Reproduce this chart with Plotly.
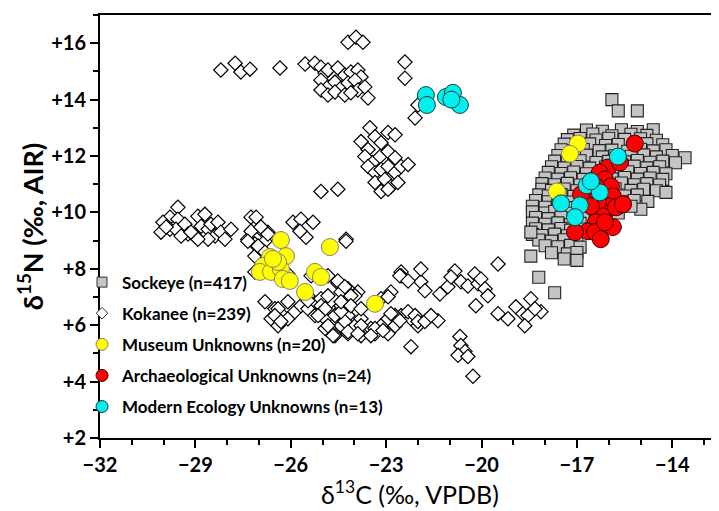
import plotly.graph_objects as go

# ---------------- data (δ13C, δ15N) ----------------
kokanee_pts = [
    (-28.20,15.05),(-27.75,15.29),(-27.57,14.98),(-27.28,15.08),(-26.34,15.12),
    (-25.55,15.26),(-25.24,15.29),(-25.05,15.15),(-24.92,14.94),(-24.83,15.05),(-24.52,15.12),
    (-24.30,14.87),(-24.11,14.98),(-23.89,15.05),(-23.79,14.80),
    (-25.05,14.69),(-24.83,14.45),(-24.61,14.62),(-24.42,14.41),(-24.20,14.59),(-23.98,14.69),
    (-23.89,14.34),(-23.67,14.45),(-25.05,14.34),(-24.83,14.16),(-24.61,14.27),(-24.30,14.16),
    (-24.11,14.24),(-23.57,14.06),
    (-24.20,16.03),(-23.95,16.21),(-23.73,16.03),
    (-22.41,15.33),(-22.41,14.76),(-22.09,13.35),(-22.00,13.81),
    (-23.51,13.00),(-23.79,12.51),(-23.57,12.23),(-23.35,12.68),(-23.16,12.47),(-22.94,12.83),
    (-22.72,12.75),(-23.67,11.98),(-23.42,11.77),(-23.19,11.98),(-22.94,12.16),(-22.72,11.94),
    (-23.57,11.63),(-23.35,11.41),(-23.16,11.52),(-22.94,11.63),(-22.72,11.41),(-22.53,11.63),
    (-22.31,11.70),(-23.35,11.06),(-23.04,11.17),(-22.85,10.92),(-22.63,11.06),(-23.16,10.74),
    (-22.94,10.82),(-25.05,10.74),(-24.52,10.82),
    (-29.55,10.18),(-29.80,9.83),(-30.02,9.65),(-29.55,9.76),(-29.80,9.40),(-30.08,9.30),
    (-29.61,9.40),(-29.33,9.58),(-29.23,9.23),(-29.45,9.16),(-29.01,9.16),(-28.92,9.86),
    (-28.70,9.93),(-28.82,9.51),(-28.60,9.40),(-28.51,9.58),(-28.29,9.65),(-28.38,9.16),
    (-28.20,9.30),(-28.07,9.05),(-27.88,9.40),(-28.60,9.05),(-28.92,9.05),(-29.14,9.30),
    (-29.92,9.48),
    (-27.25,9.83),(-27.03,9.58),(-26.94,9.40),(-27.35,9.05),(-27.13,8.88),(-26.81,8.98),
    (-27.13,8.45),(-26.94,8.70),(-26.72,9.30),(-25.93,9.65),(-25.68,9.76),(-25.52,9.12),
    (-25.71,9.33),(-24.26,9.05),(-27.09,9.83),(-27.25,9.33),(-26.94,9.48),(-26.72,9.23),
    (-27.35,8.98),(-27.03,8.81),(-26.81,8.59),(-25.30,9.65),(-24.26,8.98),
    (-27.13,7.89),(-26.81,6.83),(-26.50,6.58),(-26.31,6.41),(-26.62,6.23),(-26.40,5.98),
    (-26.09,6.23),(-25.87,6.48),(-25.68,6.69),(-25.46,6.58),(-25.24,6.34),(-24.92,6.23),
    (-24.61,6.48),(-24.42,6.69),(-24.20,6.34),(-24.42,5.98),(-23.98,5.98),(-23.79,6.23),
    (-23.48,5.88),(-23.16,5.98),(-22.94,6.23),(-22.72,5.98),(-22.53,6.34),(-22.22,6.23),
    (-22.00,5.98),(-22.22,5.24),(-24.92,5.88),(-24.61,5.63),(-24.20,5.70),(-23.79,5.63),
    (-23.35,5.70),(-22.94,5.70),
    (-25.36,7.75),(-24.83,7.75),(-24.52,7.50),(-24.20,7.29),(-23.89,7.18),(-22.85,7.18),
    (-22.53,7.89),(-21.91,7.54),(-26.09,7.82),(-25.46,7.04),(-25.05,6.94),
    (-24.42,7.18),(-23.98,7.04),(-24.83,7.04),(-26.40,6.58),(-26.09,6.83),(-26.50,6.34),
    (-26.31,6.13),(-25.46,6.87),(-25.05,6.69),(-24.61,6.34),(-24.30,6.13),(-23.79,5.98),
    (-23.35,5.88),(-22.72,6.34),(-22.53,7.75),(-23.16,6.94),
    (-22.57,7.75),(-22.31,7.57),(-21.91,7.99),(-21.78,7.22),(-21.31,7.11),(-21.06,7.36),
    (-20.84,7.92),(-20.96,7.71),(-20.65,7.54),(-20.43,7.39),(-20.21,7.82),(-20.11,7.47),
    (-20.02,7.64),(-19.89,7.29),(-20.18,6.69),(-19.80,7.04),(-19.48,8.17),(-22.94,7.01),
    (-22.85,6.41),(-22.57,6.16),(-22.31,6.48),(-22.09,6.34),(-22.00,6.13),(-21.78,6.13),
    (-21.37,6.16),(-21.59,6.34),(-19.48,6.41),(-19.17,6.23),(-18.92,6.65),(-18.70,6.41),
    (-18.45,6.94),(-18.54,6.34),(-18.13,6.48),(-18.32,6.58),(-18.64,5.98),
    (-20.68,5.60),(-20.65,5.28),(-20.52,5.07),(-20.74,4.93),(-20.43,4.89),(-20.27,4.19),
    (-24.20,5.77),(-23.89,5.70),(-23.48,5.63),(-23.10,5.81),(-24.83,5.98),(-24.42,6.48),
    (-24.11,7.04),(-24.52,7.57),(-24.30,7.36),(-24.42,6.83),(-24.11,6.69),(-24.92,6.58),
    (-25.14,6.34),(-23.79,6.58),(-24.67,5.63),
]

sockeye_pts = [
    (-16.7,12.92),(-16.2,12.88),(-15.6,12.93),(-15.1,12.87),(-14.6,12.93),
    (-17.1,12.74),(-16.5,12.78),(-15.9,12.72),(-15.3,12.77),(-14.8,12.73),
    (-17.3,12.58),(-16.9,12.62),(-16.4,12.57),(-16.0,12.63),(-15.5,12.59),(-15.0,12.61),(-14.5,12.56),
    (-17.4,12.42),(-17.0,12.38),(-16.6,12.43),(-16.1,12.37),(-15.7,12.41),(-15.2,12.39),(-14.8,12.44),(-14.3,12.40),
    (-17.5,12.22),(-17.1,12.18),(-16.8,12.23),(-16.3,12.19),(-15.9,12.21),(-15.4,12.17),(-15.0,12.24),(-14.6,12.18),(-14.2,12.22),
    (-17.6,12.02),(-17.2,11.98),(-16.7,12.03),(-16.2,11.97),(-15.8,12.01),(-15.3,11.99),(-14.9,12.04),(-14.5,11.97),(-14.0,12.02),(-13.6,11.94),
    (-17.7,11.82),(-17.3,11.78),(-16.9,11.83),(-16.4,11.77),(-16.0,11.81),(-15.5,11.79),(-15.1,11.84),(-14.7,11.78),(-14.3,11.82),(-13.9,11.76),
    (-17.8,11.62),(-17.4,11.58),(-17.0,11.63),(-16.6,11.57),(-16.1,11.61),(-15.7,11.59),(-15.2,11.64),(-14.8,11.58),(-14.4,11.62),
    (-17.9,11.42),(-17.5,11.38),(-17.1,11.43),(-16.7,11.37),(-16.2,11.41),(-15.8,11.39),(-15.4,11.44),(-15.0,11.38),(-14.6,11.42),(-14.2,11.37),
    (-18.0,11.22),(-17.6,11.18),(-17.2,11.23),(-16.8,11.17),(-16.4,11.21),(-15.9,11.19),(-15.5,11.24),(-15.1,11.18),(-14.7,11.22),(-14.3,11.17),
    (-18.1,11.02),(-17.7,10.98),(-17.3,11.03),(-16.9,10.97),(-16.5,11.01),(-16.0,10.99),(-15.6,11.04),(-15.2,10.98),(-14.8,11.02),(-14.4,10.97),
    (-18.1,10.82),(-17.8,10.78),(-17.4,10.83),(-17.0,10.77),(-16.6,10.81),(-16.2,10.79),(-15.8,10.84),(-15.3,10.78),(-14.9,10.82),(-14.5,10.77),(-14.2,10.71),
    (-18.2,10.62),(-17.9,10.58),(-17.5,10.63),(-17.1,10.57),(-16.7,10.61),(-16.3,10.59),(-15.9,10.64),(-15.5,10.58),(-15.1,10.62),(-14.77,10.39),
    (-18.3,10.42),(-17.9,10.38),(-17.6,10.43),(-17.2,10.37),(-16.8,10.41),(-16.4,10.39),(-16.0,10.44),(-15.6,10.38),(-15.2,10.42),(-14.99,10.11),
    (-18.4,10.22),(-18.0,10.18),(-17.6,10.23),(-17.3,10.17),(-16.9,10.21),(-16.5,10.19),(-16.1,10.24),(-15.7,10.18),(-15.3,10.22),
    (-18.4,10.02),(-18.0,9.98),(-17.7,10.03),(-17.3,9.97),(-16.9,10.01),(-16.5,9.99),(-16.1,10.04),(-15.7,9.98),
    (-18.3,9.82),(-17.9,9.78),(-17.5,9.83),(-17.1,9.77),(-16.8,9.81),(-16.4,9.79),
    (-18.4,9.62),(-18.0,9.58),(-17.6,9.63),(-17.2,9.57),(-16.9,9.61),
    (-18.3,9.42),(-17.9,9.38),(-17.5,9.43),(-17.2,9.37),(-16.8,9.41),
    (-18.4,9.22),(-18.1,9.18),(-17.7,9.23),(-17.3,9.17),
    (-18.2,9.02),(-17.8,8.98),(-17.4,9.03),(-17.0,8.97),
    (-18.0,8.82),(-17.6,8.78),(-17.2,8.83),(-16.9,8.77),
    (-17.8,8.57),(-17.3,8.53),(-17.0,8.58),
    (-17.4,8.35),(-17.0,8.30),
    (-15.9,14.0),(-15.7,13.6),(-15.1,13.6),(-18.45,8.45),(-18.2,7.7),(-17.7,7.15),(-18.45,9.3),
]

museum_pts = [
    (-26.31,9.02),(-24.77,8.77),(-26.65,8.42),(-26.15,8.45),(-26.87,8.10),(-26.47,8.17),
    (-26.97,7.89),(-26.62,7.89),(-26.31,7.99),(-26.25,7.64),(-26.03,7.57),(-25.24,7.89),
    (-25.05,7.71),(-25.55,7.18),(-23.35,6.76),(-26.40,8.24),(-26.56,8.35),
    (-16.97,12.44),(-17.22,12.08),(-17.63,10.74),
]

archaeo_pts = [
    (-15.18,12.44),(-16.03,11.59),(-16.28,11.41),(-16.12,11.17),(-15.93,10.92),(-16.40,10.92),
    (-16.65,10.71),(-16.87,10.64),(-15.87,10.57),(-15.71,10.22),(-16.03,10.22),(-16.34,10.36),
    (-16.18,9.86),(-15.77,10.18),(-15.55,10.29),(-16.40,9.65),(-16.65,9.33),(-17.06,9.30),
    (-16.43,9.30),(-16.25,9.05),(-15.87,9.48),(-16.12,9.65),(-15.65,11.77),(-16.56,10.22),
]

modern_pts = [
    (-15.71,11.98),(-16.69,10.96),(-16.28,10.71),(-17.50,10.32),(-16.91,10.25),(-17.06,9.83),
    (-16.56,11.10),(-21.75,14.16),(-21.72,13.81),(-21.12,14.09),(-20.90,14.24),(-20.68,13.81),
    (-20.95,14.00),
]

legend_names = ["Sockeye (n=417)", "Kokanee (n=239)", "Museum Unknowns (n=20)",
                "Archaeological Unknowns (n=24)", "Modern Ecology Unknowns (n=13)"]

x_tickvals = [-32, -29, -26, -23, -20, -17, -14]
x_ticktext = ["\u221232", "\u221229", "\u221226", "\u221223", "\u221220", "\u221217", "\u221214"]
y_tickvals = [2, 4, 6, 8, 10, 12, 14, 16]
y_ticktext = ["+2", "+4", "+6", "+8", "+10", "+12", "+14", "+16"]

# ---------------- figure ----------------
FONT = "Lato"

def xs(p):
    return [a for a, b in p]

def ys(p):
    return [b for a, b in p]

fig = go.Figure()

fig.add_trace(go.Scatter(x=xs(kokanee_pts), y=ys(kokanee_pts), mode="markers", showlegend=False,
    marker=dict(symbol="diamond", size=11, color="white", line=dict(color="black", width=1.2))))
fig.add_trace(go.Scatter(x=xs(sockeye_pts), y=ys(sockeye_pts), mode="markers", showlegend=False,
    marker=dict(symbol="square", size=12, color="#c4c4c4", line=dict(color="#222222", width=1.1))))
fig.add_trace(go.Scatter(x=xs(museum_pts), y=ys(museum_pts), mode="markers", showlegend=False,
    marker=dict(symbol="circle", size=17, color="#ffff00", line=dict(color="#8c7f6a", width=1))))
fig.add_trace(go.Scatter(x=xs(archaeo_pts), y=ys(archaeo_pts), mode="markers", showlegend=False,
    marker=dict(symbol="circle", size=17, color="#ff0000", line=dict(color="#3a0000", width=1))))
fig.add_trace(go.Scatter(x=xs(modern_pts), y=ys(modern_pts), mode="markers", showlegend=False,
    marker=dict(symbol="circle", size=17, color="#00f0f0", line=dict(color="#1a3a3a", width=1))))

legend_markers = [
    dict(symbol="square", size=10, color="#c4c4c4", line=dict(color="#333333", width=1)),
    dict(symbol="diamond", size=9, color="white", line=dict(color="#333333", width=1)),
    dict(symbol="circle", size=12, color="#ffff00", line=dict(color="#8c7f6a", width=1)),
    dict(symbol="circle", size=12, color="#ff0000", line=dict(color="#3a0000", width=1)),
    dict(symbol="circle", size=12, color="#00f0f0", line=dict(color="#1a3a3a", width=1)),
]
for i, (name, mk) in enumerate(zip(legend_names, legend_markers)):
    fig.add_trace(go.Scatter(x=[None], y=[None], mode="markers", name=name, marker=mk,
                             legendgroup=f"g{i}", showlegend=True))

axis_common = dict(
    showline=True, linewidth=2, linecolor="black", mirror=True,
    ticks="outside", ticklen=8, tickwidth=2, tickcolor="black",
    showgrid=False, zeroline=False,
    tickfont=dict(family=FONT, size=20, color="black", weight="bold"),
)

fig.update_xaxes(
    range=[-32, -12.5], tickmode="array", tickvals=x_tickvals, ticktext=x_ticktext,
    minor=dict(dtick=1, tick0=-32, ticks="outside", ticklen=5, tickwidth=1.5, tickcolor="black"),
    title=dict(text="\u03b4<sup>13</sup>C (\u2030, VPDB)", font=dict(family=FONT, size=25, color="black"),
               standoff=6),
    **axis_common,
)
fig.update_yaxes(
    range=[2, 17], tickmode="array", tickvals=y_tickvals, ticktext=y_ticktext,
    minor=dict(dtick=1, tick0=2, ticks="outside", ticklen=5, tickwidth=1.5, tickcolor="black"),
    title=dict(text="\u03b4<sup>15</sup>N (\u2030, AIR)", font=dict(family=FONT, size=27, color="black", weight="bold"),
               standoff=0),
    **axis_common,
)

fig.update_layout(
    width=719, height=511,
    margin=dict(l=92, r=7, t=5, b=81),
    paper_bgcolor="white", plot_bgcolor="white",
    legend=dict(x=-0.029, y=0.41, xanchor="left", yanchor="top",
                bgcolor="rgba(0,0,0,0)", borderwidth=0, tracegroupgap=6,
                font=dict(family=FONT, size=17, color="black", weight="bold")),
    font=dict(family=FONT),
)

fig.write_html("out.html")
